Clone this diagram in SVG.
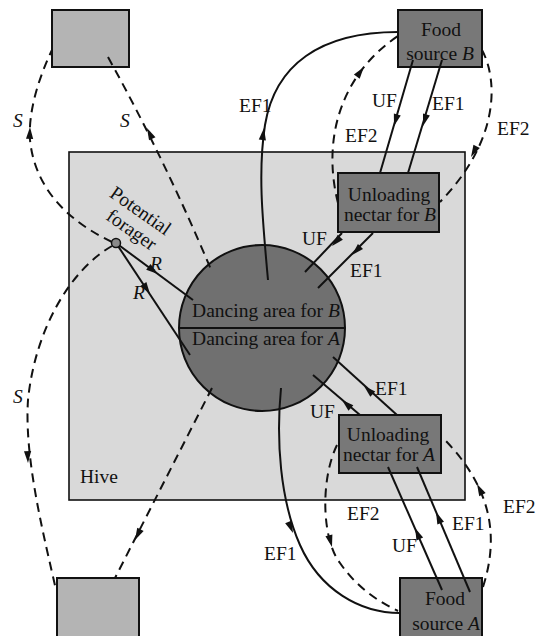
<svg xmlns="http://www.w3.org/2000/svg" xmlns:xlink="http://www.w3.org/1999/xlink" width="540" height="636" viewBox="0 0 540 636">
<style>
.t{font-family:"Liberation Serif","Times New Roman",serif;font-size:19.5px;fill:#111}
.i{font-style:italic}
.m{text-anchor:middle}
.box{fill:#787878;stroke:#111;stroke-width:2}
.site{fill:#b4b4b4;stroke:#111;stroke-width:2}
.ln{fill:none;stroke:#111;stroke-width:2}
.ds{fill:none;stroke:#111;stroke-width:2;stroke-dasharray:9 6}
.ah{fill:#111}
</style>
<defs>
<path id="ah" d="M0,0 L-12,-3.6 L-12,3.6 Z"/>
</defs>
<rect width="540" height="636" fill="#fff"/>
<g id="hive">
<rect x="69" y="152" width="396" height="348" fill="#d9d9d9" stroke="#111" stroke-width="1.6"/>
<text class="t" x="80" y="483">Hive</text>
</g>
<g id="dancing-area">
<circle cx="262" cy="328" r="83" fill="#707070" stroke="#111" stroke-width="2"/>
<line x1="179" y1="328" x2="345" y2="328" stroke="#111" stroke-width="2"/>
<text class="t m" x="266" y="317">Dancing area for <tspan class="i">B</tspan></text>
<text class="t m" x="266" y="345">Dancing area for <tspan class="i">A</tspan></text>
</g>
<g id="site-top">
<rect class="site" x="52" y="10" width="77" height="57"/>
</g>
<g id="site-bottom">
<rect class="site" x="57" y="578" width="82" height="60"/>
</g>
<g id="food-b">
<rect class="box" x="398" y="10" width="84" height="57"/>
<text class="t m" x="441" y="36">Food</text>
<text class="t m" x="440" y="60">source <tspan class="i">B</tspan></text>
</g>
<g id="unload-b">
<rect class="box" x="338" y="173" width="101" height="59"/>
<text class="t m" x="389" y="201">Unloading</text>
<text class="t m" x="390" y="221">nectar for <tspan class="i">B</tspan></text>
</g>
<g id="unload-a">
<rect class="box" x="339" y="415" width="102" height="58"/>
<text class="t m" x="388" y="441">Unloading</text>
<text class="t m" x="389" y="461">nectar for <tspan class="i">A</tspan></text>
</g>
<g id="food-a">
<rect class="box" x="400" y="578" width="82" height="60"/>
<text class="t m" x="445" y="605">Food</text>
<text class="t m" x="446" y="630">source <tspan class="i">A</tspan></text>
</g>
<g id="connectors">
<path class="ds" d="M108,57 Q166,162 212,272"/>
<path class="ds" d="M112,242 C70,222 35,190 30,140 C28,110 40,75 52,50"/>
<path class="ds" d="M112,246 C70,270 35,330 28,400 C24,460 45,540 56,590"/>
<path class="ds" d="M212,388 L115,578"/>
<path class="ln" d="M116,243 L193,300"/>
<path class="ln" d="M116,243 L190,355"/>
<path class="ln" d="M268,280 C262,215 258,170 265,125 C275,65 320,32 398,32"/>
<path class="ds" d="M338,203 C322,140 340,75 398,36"/>
<path class="ln" d="M413,60 L380,173"/>
<path class="ln" d="M442,60 L408,173"/>
<path class="ds" d="M482,50 C498,80 500,140 440,202"/>
<path class="ln" d="M342,233 L305,272"/>
<path class="ln" d="M373,233 L318,288"/>
<path class="ln" d="M397,415 L333,357"/>
<path class="ln" d="M360,415 L313,375"/>
<path class="ln" d="M281,388 C276,440 280,500 300,545 C320,590 360,613 400,613"/>
<path class="ds" d="M337,445 C320,480 322,540 340,563 C355,585 375,600 398,611"/>
<path class="ln" d="M442,590 L388,467"/>
<path class="ln" d="M470,592 L417,467"/>
<path class="ds" d="M483,587 C498,540 495,490 442,437"/>
<g class="ah">
<use xlink:href="#ah" transform="translate(147,128) rotate(-116)"/>
<use xlink:href="#ah" transform="translate(30,127) rotate(-88)"/>
<use xlink:href="#ah" transform="translate(28,463) rotate(88)"/>
<use xlink:href="#ah" transform="translate(135,540) rotate(117)"/>
<use xlink:href="#ah" transform="translate(158,274) rotate(36.5)"/>
<use xlink:href="#ah" transform="translate(150,294) rotate(56.5)"/>
<use xlink:href="#ah" transform="translate(264,128) rotate(-82)"/>
<use xlink:href="#ah" transform="translate(364,67) rotate(-53)"/>
<use xlink:href="#ah" transform="translate(394,126) rotate(106)"/>
<use xlink:href="#ah" transform="translate(423,126) rotate(106.7)"/>
<use xlink:href="#ah" transform="translate(471,157) rotate(118)"/>
<use xlink:href="#ah" transform="translate(332,246) rotate(133.7)"/>
<use xlink:href="#ah" transform="translate(352,255) rotate(135)"/>
<use xlink:href="#ah" transform="translate(364,386) rotate(-137)"/>
<use xlink:href="#ah" transform="translate(342,400) rotate(-138)"/>
<use xlink:href="#ah" transform="translate(293,533) rotate(68)"/>
<use xlink:href="#ah" transform="translate(332,547) rotate(75)"/>
<use xlink:href="#ah" transform="translate(415,528) rotate(-113.7)"/>
<use xlink:href="#ah" transform="translate(436,512) rotate(-113)"/>
<use xlink:href="#ah" transform="translate(477,484) rotate(-117)"/>
</g>
<g id="connector-labels">
<text class="t i" x="120" y="127">S</text>
<text class="t i" x="13" y="127">S</text>
<text class="t i" x="13" y="403">S</text>
<text class="t i" x="150" y="270">R</text>
<text class="t i" x="133" y="299">R</text>
<text class="t" x="239" y="112">EF1</text>
<text class="t" x="372" y="107">UF</text>
<text class="t" x="432" y="110">EF1</text>
<text class="t" x="345" y="142">EF2</text>
<text class="t" x="497" y="135">EF2</text>
<text class="t" x="302" y="245">UF</text>
<text class="t" x="350" y="277">EF1</text>
<text class="t" x="375" y="395">EF1</text>
<text class="t" x="310" y="418">UF</text>
<text class="t" x="264" y="560">EF1</text>
<text class="t" x="347" y="520">EF2</text>
<text class="t" x="392" y="552">UF</text>
<text class="t" x="452" y="530">EF1</text>
<text class="t" x="503" y="513">EF2</text>
</g>
</g>
<g id="forager">
<circle cx="116" cy="243" r="4.5" fill="#8a8a8a" stroke="#111" stroke-width="1.5"/>
<text class="t m" transform="translate(137,216) rotate(35)">Potential</text>
<text class="t m" transform="translate(128,235) rotate(35)">forager</text>
</g>
</svg>
